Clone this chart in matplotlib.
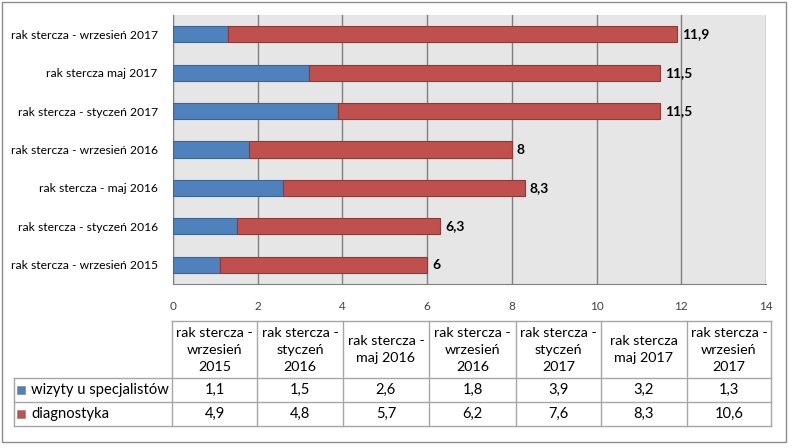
import matplotlib
matplotlib.use("Agg")
import matplotlib.pyplot as plt
from matplotlib.lines import Line2D
from matplotlib.patches import Rectangle

plt.rcParams['font.family'] = ['Lato', 'DejaVu Sans']

# data, bottom to top
categories = ["rak stercza - wrzesień 2015", "rak stercza - styczeń 2016",
              "rak stercza - maj 2016", "rak stercza - wrzesień 2016",
              "rak stercza - styczeń 2017", "rak stercza maj 2017",
              "rak stercza - wrzesień 2017"]
table_headers = ["rak stercza -\nwrzesień\n2015", "rak stercza -\nstyczeń\n2016",
                 "rak stercza -\nmaj 2016", "rak stercza -\nwrzesień\n2016",
                 "rak stercza -\nstyczeń\n2017", "rak stercza\nmaj 2017",
                 "rak stercza -\nwrzesień\n2017"]
series_names = ["wizyty u specjalistów", "diagnostyka"]
wizyty = [1.1, 1.5, 2.6, 1.8, 3.9, 3.2, 1.3]
diagnostyka = [4.9, 4.8, 5.7, 6.2, 7.6, 8.3, 10.6]
xticks = [0, 2, 4, 6, 8, 10, 12, 14]

blue, blue_edge = "#4F81BD", "#3B6595"
red, red_edge = "#C0504D", "#8E3A38"
W, H = 793, 448


def fx(x):
    return x / W


def fy(y):
    return 1 - y / H


fig = plt.figure(figsize=(W / 100, H / 100), dpi=100)

# outer chart border
fig.add_artist(Rectangle((fx(2), fy(442)), fx(784), 440 / H, fill=False,
                         edgecolor="#8C8C8C", linewidth=1, transform=fig.transFigure))

ax = fig.add_axes([fx(173), fy(284), fx(766 - 173), (284 - 15) / H])
ax.set_facecolor("#E6E6E6")

y = list(range(len(categories)))
ax.barh(y, wizyty, height=0.42, color=blue, edgecolor=blue_edge, linewidth=0.8, zorder=3)
ax.barh(y, diagnostyka, left=wizyty, height=0.42, color=red, edgecolor=red_edge,
        linewidth=0.8, zorder=3)

for i in y:
    total = round(wizyty[i] + diagnostyka[i], 1)
    txt = ("%g" % total).replace(".", ",")
    ax.text(total + 0.12, i, txt, va="center", ha="left", fontsize=10,
            fontweight="bold", color="black", zorder=4)

ax.set_xlim(0, 14)
ax.set_ylim(-0.5, 6.5)
ax.set_xticks(xticks)
ax.set_xticklabels([str(t) for t in xticks], fontsize=8.5, color="#404040")
ax.set_yticks(y)
ax.set_yticklabels(categories, fontsize=8.7, color="black")
ax.tick_params(length=0)
ax.tick_params(axis="x", pad=12)
ax.tick_params(axis="y", pad=11)
ax.grid(axis="x", color="#808080", linewidth=1, zorder=1)
for s in ["top", "right"]:
    ax.spines[s].set_visible(False)
ax.spines["left"].set_color("#808080")
ax.spines["bottom"].set_color("#808080")

# data table below
col_x = [172, 257, 343, 429, 516, 601, 687, 771]
row_y = [321, 378, 402, 426]
label_left = 14
lc = "#A6A6A6"


def hline(x0, x1, yy):
    fig.add_artist(Line2D([fx(x0), fx(x1)], [fy(yy), fy(yy)], color=lc, linewidth=1,
                          transform=fig.transFigure))


def vline(xx, y0, y1):
    fig.add_artist(Line2D([fx(xx), fx(xx)], [fy(y0), fy(y1)], color=lc, linewidth=1,
                          transform=fig.transFigure))


hline(col_x[0], col_x[-1], row_y[0])
for yy in row_y[1:]:
    hline(label_left, col_x[-1], yy)
for xx in col_x:
    vline(xx, row_y[0], row_y[-1])
vline(label_left, row_y[1], row_y[-1])

for j, h in enumerate(table_headers):
    cx = (col_x[j] + col_x[j + 1]) / 2
    fig.text(fx(cx), fy((row_y[0] + row_y[1]) / 2), h, ha="center", va="center",
             fontsize=10.3, linespacing=1.5)

rows = [wizyty, diagnostyka]
colors = [blue, red]
for r, (vals, name, c) in enumerate(zip(rows, series_names, colors)):
    cy = (row_y[r + 1] + row_y[r + 2]) / 2
    fig.add_artist(Rectangle((fx(17), fy(cy + 4)), 8 / W, 8 / H, facecolor=c,
                             edgecolor="#888888", linewidth=0.5, transform=fig.transFigure))
    fig.text(fx(31), fy(cy), name, ha="left", va="center", fontsize=10.6)
    for j, v in enumerate(vals):
        cx = (col_x[j] + col_x[j + 1]) / 2
        fig.text(fx(cx), fy(cy), ("%g" % v).replace(".", ","), ha="center",
                 va="center", fontsize=10.6)

fig.savefig("out.png", dpi=100)
